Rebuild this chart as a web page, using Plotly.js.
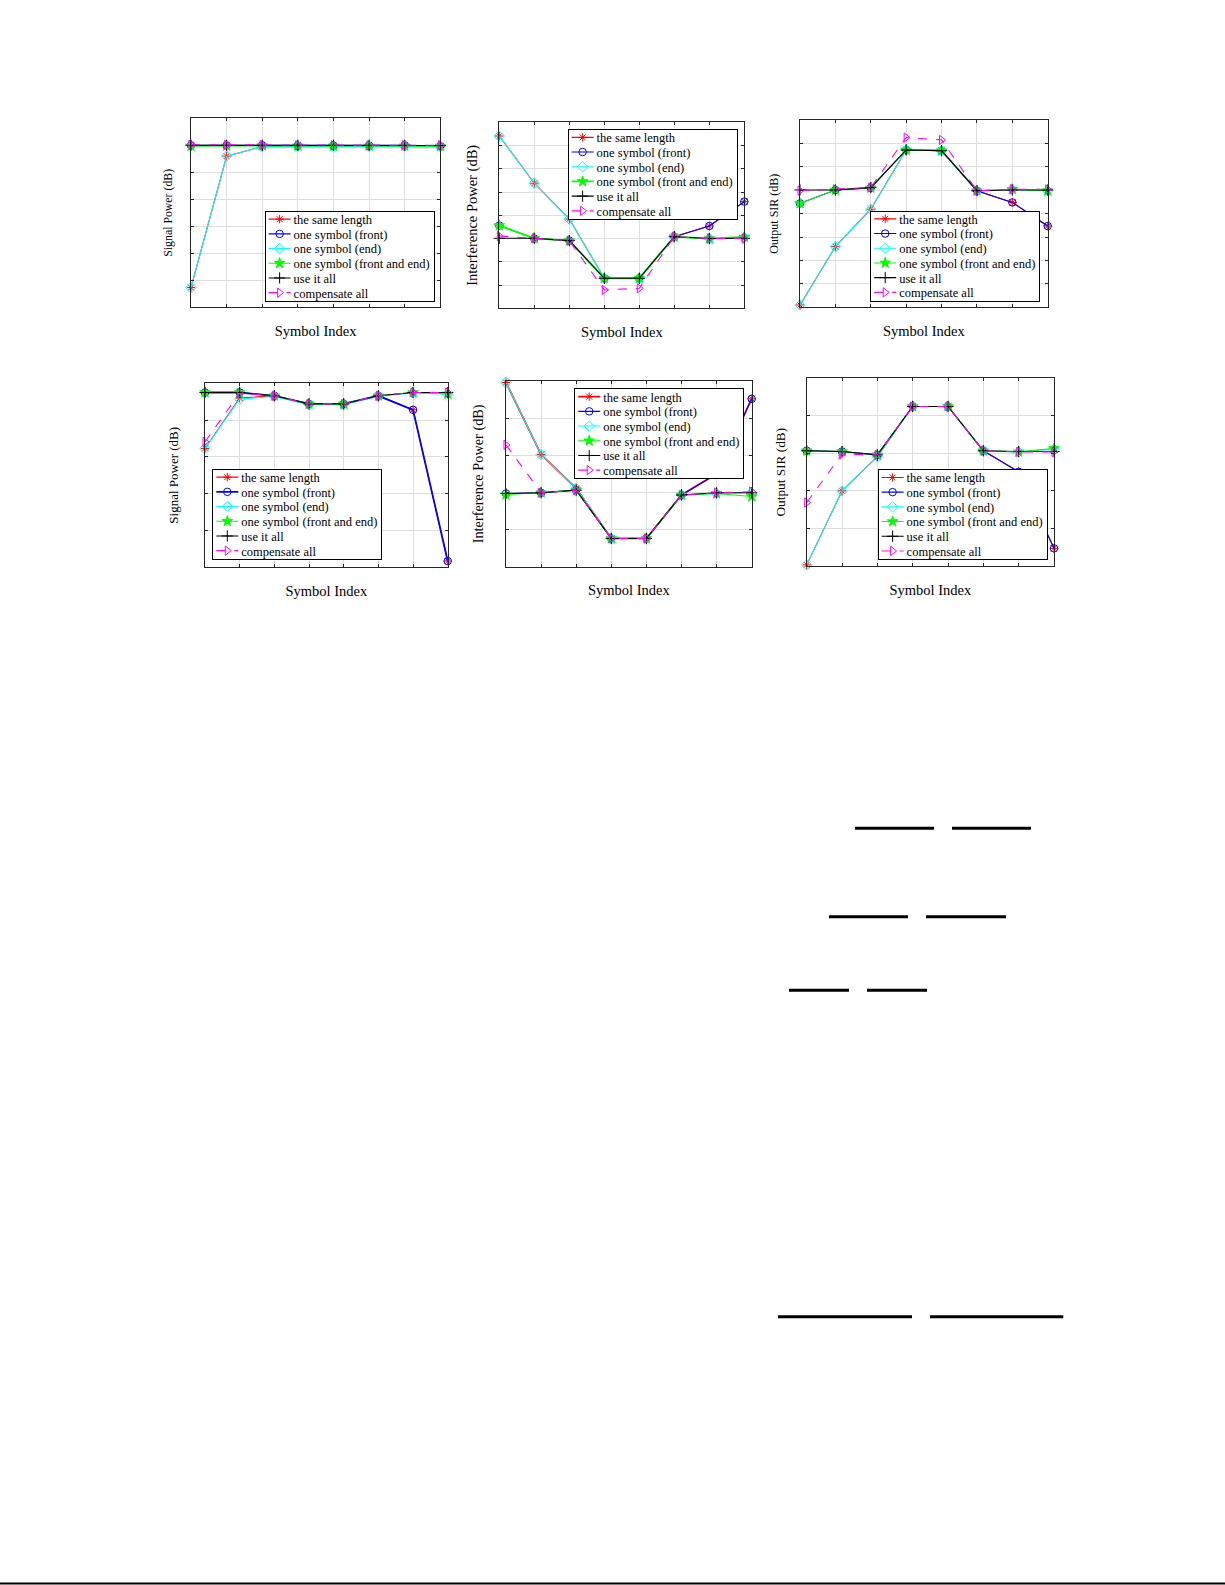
<!DOCTYPE html>
<html>
<head>
<meta charset="utf-8">
<script src="https://cdn.plot.ly/plotly-3.0.1.min.js"></script>
<style>
  html, body { margin: 0; padding: 0; background: #ffffff; }
  #chart { width: 1225px; height: 1585px; }
</style>
</head>
<body>
<div id="chart"></div>
<script>
// ---------------- data (values read in grid units, y axis has no labels) ----------------
const symbolIndex = [1, 2, 3, 4, 5, 6, 7, 8];
const seriesNames = ['the same length', 'one symbol (front)', 'one symbol (end)',
                     'one symbol (front and end)', 'use it all', 'compensate all'];

// Panel 1: Signal Power (top row)
const sigTopSameLength = [0.73, 5.60, 5.95, 5.96, 5.96, 5.96, 5.96, 5.95];
const sigTopFront      = [6.00, 6.00, 6.00, 5.99, 5.99, 5.99, 6.00, 5.97];
const sigTopEnd        = [0.73, 5.60, 5.95, 5.96, 5.96, 5.96, 5.96, 5.95];
const sigTopFrontEnd   = [5.97, 5.98, 5.99, 5.98, 5.98, 5.98, 5.98, 5.97];
const sigTopUseAll     = [6.00, 6.00, 6.00, 6.00, 6.00, 6.00, 6.00, 5.99];
const sigTopCompensate = [6.02, 6.02, 6.01, 6.00, 6.00, 6.00, 6.01, 6.00];

// Panel 2: Interference Power (top row)
const intTopSameLength = [7.41, 5.38, 3.84, 1.29, 1.29, 3.08, 3.54, 4.59];
const intTopFront      = [3.56, 3.00, 2.91, 1.29, 1.29, 3.08, 3.54, 4.59];
const intTopEnd        = [7.41, 5.38, 3.84, 1.29, 1.29, 3.08, 3.00, 3.05];
const intTopFrontEnd   = [3.56, 3.01, 2.91, 1.29, 1.29, 3.08, 3.00, 3.07];
const intTopUseAll     = [3.01, 3.01, 2.91, 1.29, 1.29, 3.08, 3.00, 3.01];
const intTopCompensate = [3.11, 3.01, 2.91, 0.79, 0.86, 3.08, 3.00, 3.00];

// Panel 3: Output SIR (top row)
const sirTopSameLength = [0.10, 2.59, 4.19, 6.72, 6.69, 4.98, 4.48, 3.47];
const sirTopFront      = [4.44, 5.01, 5.10, 6.72, 6.69, 4.98, 4.48, 3.47];
const sirTopEnd        = [0.10, 2.59, 4.19, 6.72, 6.69, 4.98, 5.04, 4.98];
const sirTopFrontEnd   = [4.44, 5.01, 5.10, 6.72, 6.69, 4.98, 5.04, 4.98];
const sirTopUseAll     = [5.01, 5.01, 5.11, 6.72, 6.69, 4.98, 5.01, 5.01];
const sirTopCompensate = [4.98, 5.04, 5.12, 7.25, 7.15, 4.98, 5.04, 5.04];

// Panel 4: Signal Power (bottom row)
const sigBotSameLength = [3.23, 4.60, 4.66, 4.44, 4.44, 4.66, 4.28, 0.17];
const sigBotFront      = [4.75, 4.75, 4.66, 4.44, 4.44, 4.66, 4.28, 0.17];
const sigBotEnd        = [3.23, 4.57, 4.64, 4.42, 4.42, 4.65, 4.74, 4.71];
const sigBotFrontEnd   = [4.75, 4.75, 4.66, 4.44, 4.44, 4.66, 4.75, 4.71];
const sigBotUseAll     = [4.75, 4.75, 4.66, 4.44, 4.44, 4.66, 4.75, 4.75];
const sigBotCompensate = [3.41, 4.73, 4.66, 4.44, 4.44, 4.66, 4.75, 4.75];

// Panel 5: Interference Power (bottom row)
const intBotSameLength = [4.96, 3.02, 2.11, 0.76, 0.76, 1.93, 2.50, 4.52];
const intBotFront      = [1.97, 1.99, 2.06, 0.76, 0.76, 1.93, 2.50, 4.52];
const intBotEnd        = [4.96, 3.02, 2.11, 0.76, 0.76, 1.93, 1.97, 1.99];
const intBotFrontEnd   = [1.94, 1.99, 2.06, 0.76, 0.76, 1.93, 1.97, 1.89];
const intBotUseAll     = [1.97, 1.99, 2.06, 0.76, 0.76, 1.93, 1.99, 1.99];
const intBotCompensate = [3.28, 1.99, 2.06, 0.76, 0.76, 1.93, 1.99, 2.02];

// Panel 6: Output SIR (bottom row)
const sirBotSameLength = [0.03, 2.00, 2.91, 4.25, 4.25, 3.07, 2.51, 0.47];
const sirBotFront      = [3.07, 3.05, 2.96, 4.25, 4.25, 3.07, 2.51, 0.47];
const sirBotEnd        = [0.03, 2.00, 2.91, 4.25, 4.25, 3.07, 3.04, 3.11];
const sirBotFrontEnd   = [3.07, 3.05, 2.96, 4.25, 4.25, 3.07, 3.04, 3.13];
const sirBotUseAll     = [3.07, 3.05, 2.96, 4.25, 4.25, 3.07, 3.05, 3.05];
const sirBotCompensate = [1.69, 2.98, 2.96, 4.25, 4.25, 3.07, 3.04, 3.04];

const yTitles = ['Signal Power (dB)', 'Interference Power (dB)', 'Output SIR (dB)',
                 'Signal Power (dB)', 'Interference Power (dB)', 'Output SIR (dB)'];
const xTitle = 'Symbol Index';
const yGridCounts = [7, 8, 8, 5, 5, 5];

// ---------------- layout / styling ----------------
const W = 1225, H = 1585;
const fx = px => px / W;
const fy = py => 1 - py / H;
const FONT = 'Liberation Serif, Times New Roman, serif';

const panelData = [
  [sigTopSameLength, sigTopFront, sigTopEnd, sigTopFrontEnd, sigTopUseAll, sigTopCompensate],
  [intTopSameLength, intTopFront, intTopEnd, intTopFrontEnd, intTopUseAll, intTopCompensate],
  [sirTopSameLength, sirTopFront, sirTopEnd, sirTopFrontEnd, sirTopUseAll, sirTopCompensate],
  [sigBotSameLength, sigBotFront, sigBotEnd, sigBotFrontEnd, sigBotUseAll, sigBotCompensate],
  [intBotSameLength, intBotFront, intBotEnd, intBotFrontEnd, intBotUseAll, intBotCompensate],
  [sirBotSameLength, sirBotFront, sirBotEnd, sirBotFrontEnd, sirBotUseAll, sirBotCompensate]
];

// plot-area boxes in page pixels: [left, right, top, bottom]
const boxes = [
  [191, 440.3, 118.3, 307.3],
  [499.3, 744.3, 122.3, 308.3],
  [800, 1047.7, 120, 307.3],
  [205, 447.7, 383.3, 567.3],
  [506, 751.7, 381, 566.7],
  [806.7, 1054, 378.3, 566]
];
const yTitleSize = [11.8, 14.5, 12, 13, 14.3, 13.3];
const yTitleStandoff = [14, 17, 17, 22, 17, 17];
// series drawn with a heavier line in individual panels: panel index -> series indices
const thickSeries = {1: [3], 3: [1], 4: [0]};
// legend anchors: [x, y, xanchor, yanchor]
const legendPos = [
  [433.7, 301, 'right', 'bottom'],
  [736.7, 129, 'right', 'top'],
  [1039.3, 300.7, 'right', 'bottom'],
  [212.3, 559, 'left', 'bottom'],
  [743.3, 388.3, 'right', 'top'],
  [1046.7, 559.3, 'right', 'bottom']
];

const styles = [
  {color: '#ff0000', symbol: 'asterisk-open', size: 7, dash: 'solid'},
  {color: '#0000ff', symbol: 'circle-open', size: 7.5, dash: 'solid'},
  {color: '#00ffff', symbol: 'diamond-open', size: 8, dash: 'solid'},
  {color: '#00ff00', symbol: 'star', size: 8, dash: 'solid'},
  {color: '#000000', symbol: 'cross-thin-open', size: 8, dash: 'solid'},
  {color: '#ff00ff', symbol: 'triangle-right-open', size: 8, dash: 'dash'}
];

const traces = [];
const layout = {
  width: W, height: H,
  margin: {l: 0, r: 0, t: 0, b: 0},
  paper_bgcolor: '#ffffff',
  plot_bgcolor: '#ffffff',
  font: {family: FONT, color: '#000000'},
  showlegend: true,
  shapes: []
};

panelData.forEach((series, p) => {
  const idx = p === 0 ? '' : String(p + 1);
  const legendKey = 'legend' + idx;
  series.forEach((vals, s) => {
    const st = styles[s];
    const lw = (thickSeries[p] || []).includes(s) ? 1.8 : 1.1;
    traces.push({
      type: 'scatter', mode: 'lines+markers',
      x: symbolIndex, y: vals,
      xaxis: 'x' + idx, yaxis: 'y' + idx,
      name: seriesNames[s],
      legend: legendKey,
      cliponaxis: false,
      line: {color: st.color, width: lw, dash: st.dash},
      marker: {symbol: st.symbol, size: st.size, color: st.color,
               line: {color: st.color, width: 1}}
    });
  });
  const b = boxes[p];
  layout['xaxis' + idx] = {
    domain: [fx(b[0]), fx(b[1])],
    anchor: 'y' + idx,
    range: [1, 8], tick0: 1, dtick: 1,
    showticklabels: false,
    ticks: 'inside', ticklen: 3, tickcolor: '#262626', tickwidth: 1,
    showline: true, linecolor: '#262626', linewidth: 1, mirror: 'allticks',
    showgrid: true, gridcolor: '#dedede', gridwidth: 1, zeroline: false,
    fixedrange: true,
    title: {text: xTitle, font: {family: FONT, size: 14.5, color: '#000'}, standoff: 18}
  };
  layout['yaxis' + idx] = {
    domain: [fy(b[3]), fy(b[2])],
    anchor: 'x' + idx,
    range: [0, yGridCounts[p]], tick0: 0, dtick: 1,
    showticklabels: false,
    ticks: 'inside', ticklen: 3, tickcolor: '#262626', tickwidth: 1,
    showline: true, linecolor: '#262626', linewidth: 1, mirror: 'allticks',
    showgrid: true, gridcolor: '#dedede', gridwidth: 1, zeroline: false,
    fixedrange: true,
    title: {text: yTitles[p], font: {family: FONT, size: yTitleSize[p], color: '#000'},
            standoff: yTitleStandoff[p]}
  };
  const lp = legendPos[p];
  layout[legendKey] = {
    x: fx(lp[0]), y: fy(lp[1]), xanchor: lp[2], yanchor: lp[3],
    xref: 'paper', yref: 'paper',
    bgcolor: '#ffffff', bordercolor: '#000000', borderwidth: 1,
    font: {family: FONT, size: 12.5, color: '#000'},
    itemwidth: 30, tracegroupgap: 0
  };
});

// page decorations (fraction bars of the surrounding page, and bottom rule)
const pageBars = [
  [855, 934, 828.3], [952, 1031, 828.3],
  [829, 908, 916.7], [926, 1006, 916.7],
  [789, 849, 990.3], [867, 927, 990.3],
  [778, 912, 1316.7], [930, 1063.3, 1316.7]
];
pageBars.forEach(([x0, x1, y]) => {
  layout.shapes.push({type: 'line', xref: 'paper', yref: 'paper',
    x0: fx(x0), x1: fx(x1), y0: fy(y), y1: fy(y),
    line: {color: '#000', width: 3}});
});
layout.shapes.push({type: 'line', xref: 'paper', yref: 'paper',
  x0: 0, x1: 1, y0: fy(1583.5), y1: fy(1583.5), line: {color: '#000', width: 2}});

// Tighten the legend boxes to the compact MATLAB-like row spacing (idempotent)
function compactLegends(gd) {
  const rowH = 14.7;
  const info = gd.querySelector('g.infolayer');
  if (!info) return;
  legendPos.forEach((lp, p) => {
    const key = p === 0 ? 'legend' : 'legend' + (p + 1);
    let lg = null;
    for (const ch of info.children) {
      if (ch.classList && ch.classList.contains(key)) { lg = ch; break; }
    }
    if (!lg) return;
    const bg = lg.querySelector('rect.bg');
    const items = lg.querySelectorAll('g.traces');
    let maxRight = 0;
    items.forEach((it, i) => {
      const m = /translate\(\s*([-\d.e]+)[ ,]+([-\d.e]+)/.exec(it.getAttribute('transform') || '');
      const tx = m ? +m[1] : 1;
      it.setAttribute('transform', 'translate(' + tx + ',' + (1 + rowH * (i + 0.5)) + ')');
      const txt = it.querySelector('text');
      if (txt) {
        txt.setAttribute('x', 28);
        txt.querySelectorAll('tspan').forEach(ts => { if (ts.hasAttribute('x')) ts.setAttribute('x', 28); });
        maxRight = Math.max(maxRight, tx + 28 + txt.getComputedTextLength());
      }
      it.querySelectorAll('path').forEach(pth => {
        const d = (pth.getAttribute('d') || '').replace(/\s/g, '');
        if (d === 'M5,0h30') pth.setAttribute('d', 'M3,0h22');
        const t = pth.getAttribute('transform') || '';
        if (/translate\(\s*20[ ,]+0\s*\)/.test(t)) pth.setAttribute('transform', 'translate(14,0)');
      });
    });
    if (maxRight <= 0) return;
    const Hn = items.length * rowH + 2;
    const Wn = maxRight + 4;
    if (bg) { bg.setAttribute('height', Hn); bg.setAttribute('width', Wn); }
    const X = lp[2] === 'right' ? lp[0] - Wn : lp[0];
    const Y = lp[3] === 'bottom' ? lp[1] - Hn : lp[1];
    lg.setAttribute('transform', 'translate(' + X + ',' + Y + ')');
  });
}

const gd = document.getElementById('chart');
Plotly.newPlot(gd, traces, layout, {displayModeBar: false, staticPlot: true})
  .then(() => {
    compactLegends(gd);
    requestAnimationFrame(() => compactLegends(gd));
    setTimeout(() => compactLegends(gd), 50);
    setTimeout(() => compactLegends(gd), 250);
    setTimeout(() => compactLegends(gd), 700);
  });
</script>
</body>
</html>
